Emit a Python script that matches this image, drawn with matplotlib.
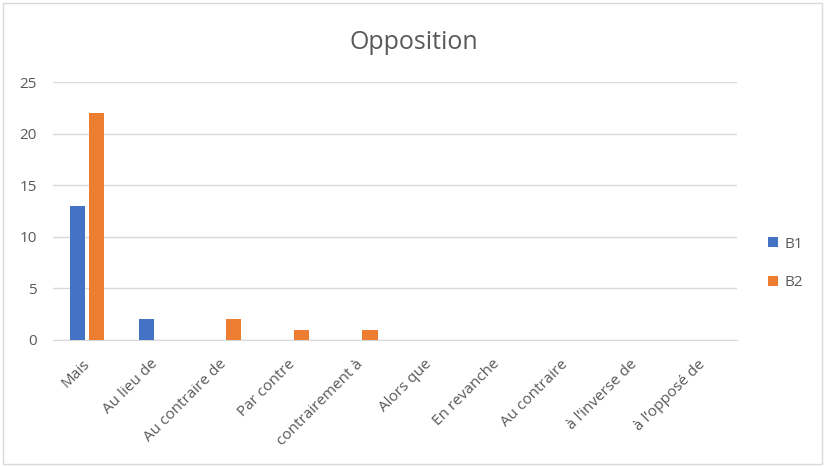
import matplotlib.pyplot as plt
import numpy as np
from matplotlib.patches import Rectangle
from matplotlib.transforms import ScaledTranslation

plt.rcParams['font.family'] = ['Open Sans', 'DejaVu Sans']

categories = ['Mais', 'Au lieu de', 'Au contraire de', 'Par contre', 'contrairement à',
              'Alors que', 'En revanche', 'Au contraire', 'à l\u2019inverse de', 'à l\u2019opposé de']
b1 = [13, 2, 0, 0, 0, 0, 0, 0, 0, 0]
b2 = [22, 0, 2, 1, 1, 0, 0, 0, 0, 0]
yticks = [0, 5, 10, 15, 20, 25]

blue = '#4472C4'
orange = '#ED7D31'
gray_text = '#595959'

fig = plt.figure(figsize=(8.25, 4.66), dpi=100)
# chart frame
fig.patches.append(Rectangle((0.004, 0.004), 0.992, 0.99, transform=fig.transFigure,
                             fill=False, edgecolor='#D9D9D9', linewidth=1))

ax = fig.add_axes([0.0642, 0.2704, 0.829, 0.5536])
x = np.arange(len(categories))
w = 0.224
off = 0.137
ax.bar(x - off, b1, width=w, color=blue, label='B1', zorder=3)
ax.bar(x + off, b2, width=w, color=orange, label='B2', zorder=3)

ax.set_xlim(-0.5, len(categories) - 0.5)
ax.set_ylim(0, 25)
ax.set_yticks(yticks)
ax.yaxis.grid(True, color='#D9D9D9', linewidth=1, zorder=0)
ax.tick_params(axis='y', length=0, labelsize=11, labelcolor=gray_text, pad=11.5)
ax.tick_params(axis='x', length=0, labelsize=11, labelcolor=gray_text, pad=12)
ax.set_xticks(x)
ax.set_xticklabels(categories, rotation=45, ha='right', rotation_mode='anchor')
# nudge the slanted labels a little to the left
shift = ScaledTranslation(-5 / 100, 0, fig.dpi_scale_trans)
for lbl in ax.get_xticklabels():
    lbl.set_transform(lbl.get_transform() + shift)
for s in ['top', 'right', 'left']:
    ax.spines[s].set_visible(False)
ax.spines['bottom'].set_color('#D9D9D9')

fig.text(0.502, 0.908, 'Opposition', ha='center', va='center', fontsize=18, color=gray_text)

fig.legend(loc='center left', bbox_to_anchor=(768 / 825, 1 - 263.5 / 466),
           bbox_transform=fig.transFigure, borderaxespad=0, borderpad=0,
           frameon=False, fontsize=11, labelcolor=gray_text, handlelength=0.65,
           handleheight=0.65, labelspacing=1.55, handletextpad=0.45)

fig.savefig('out.png', dpi=100)
